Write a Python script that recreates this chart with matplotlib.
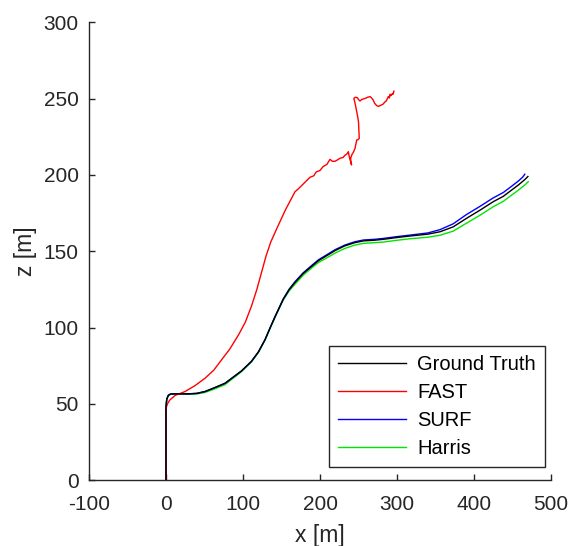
import matplotlib
matplotlib.use("Agg")
import matplotlib.pyplot as plt

plt.rcParams['font.family'] = ['Liberation Sans', 'DejaVu Sans']
plt.rcParams['axes.unicode_minus'] = False

# Ground truth trajectory
gt_x = [0, 0, 0, 1, 3, 6, 15, 29, 40, 50.6, 62, 76.6, 85.3, 98, 111, 120, 128.6, 135,
        141.6, 152.3, 160, 167.5, 178, 189, 198, 206.5, 219.5, 232, 245, 256.5, 270, 282,
        300, 317, 340, 356, 373, 390, 408, 425, 438, 448, 457.5, 466, 470]
gt_z = [0, 25, 48, 53, 55.5, 56.4, 56.5, 56.5, 56.8, 58, 60.3, 63.4, 66.7, 71.5, 77.8, 84, 92,
        99.5, 107, 118.5, 124.8, 129.5, 135.3, 140, 143.8, 146.4, 150.4, 153.5, 155.6, 156.8, 157.2, 157.8,
        159, 160, 161.2, 162.8, 166, 171.5, 177, 182.5, 186, 189.8, 193.4, 197, 199]

# FAST trajectory
fast_x = [0, 0, 0, 2, 5, 12, 24.7, 38, 50.6, 62, 72, 83, 94, 103, 111, 118, 124, 130, 136,
          144, 155, 167.5, 172, 180, 187, 192, 195, 200, 204, 209, 213, 216, 219.5, 223, 226,
          230, 232.5, 235, 236.8, 238, 239, 240, 241, 240, 239.8, 242, 243, 245.5, 246.5,
          247.7, 249, 251, 250.5, 250, 249, 247.7, 246, 244, 246, 248.5, 250, 252, 254, 256,
          260, 262, 265, 267, 269, 271, 273.6, 276, 280, 282, 284.4, 286, 288.7, 290, 291,
          292, 293, 294, 295, 296]
fast_z = [0, 25, 47, 50, 52.5, 55.5, 58, 62, 66.7, 72, 78.7, 86, 95, 103.5, 114, 125, 136, 147, 156,
          165, 177, 189, 191, 195, 198.5, 199.5, 202, 203, 205.5, 207, 210.3, 209, 209, 210, 211,
          211.5, 213, 213.8, 215.3, 212, 210, 208.5, 206.6, 209, 211, 214, 214.5, 217.5, 220,
          223, 223, 224, 229, 235, 238, 241.5, 246, 250.3, 251, 250.7, 249.5, 248.5, 249.5, 249.8,
          250.5, 251, 251.4, 250.5, 249.2, 247, 245.5, 245, 246, 246.5, 248, 248.5, 251.4, 250.5,
          252.9, 252, 252.5, 253.5, 253, 255]

# SURF trajectory
surf_x = [0, 0, 0, 1, 3, 6, 15, 29, 40, 50.6, 62, 76.6, 85.3, 98, 111, 120, 128.6, 135,
          141.6, 152.3, 160, 167.5, 178, 189, 198, 206.5, 219.5, 232, 245, 256.5, 270, 282,
          300, 317, 340, 356, 373, 390, 408, 425, 438, 448, 457.5, 463, 466]
surf_z = [0, 25, 48, 53, 55.5, 56.4, 56.5, 56.5, 56.8, 58, 60.3, 63.4, 66.7, 71.5, 77.8, 84, 92,
          99.6, 107.2, 118.8, 125.2, 130, 135.8, 140.6, 144.4, 147, 151, 154, 156.2, 157.4, 157.8, 158.4,
          159.6, 160.6, 162, 164.2, 168, 174, 179.5, 185, 188.5, 192.3, 196, 198.5, 200.5]

# Harris trajectory
harris_x = [0, 0, 0, 1, 3, 6, 15, 29, 40, 50.6, 62, 76.6, 85.3, 98, 111, 120, 128.6, 135,
            141.6, 152.3, 160, 167.5, 178, 189, 198, 206.5, 219.5, 232, 245, 256.5, 270, 282,
            300, 317, 340, 356, 373, 390, 408, 425, 438, 448, 457.5, 466, 470.5]
harris_z = [0, 25, 48, 53, 55.5, 56.2, 56.3, 56.2, 56.4, 57.4, 59.5, 62.5, 66, 71, 77.4, 83.6, 91.7,
            99.2, 106.7, 118.1, 124, 128.4, 134.2, 139, 142.6, 145, 148.8, 151.8, 154, 155.2, 155.6, 156,
            157.2, 158.2, 159.2, 160.5, 163.2, 168.3, 173.7, 179.2, 182.7, 186.5, 190, 193.5, 195.6]

xticks = [-100, 0, 100, 200, 300, 400, 500]
yticks = [0, 50, 100, 150, 200, 250, 300]

dark = (0.15, 0.15, 0.15)

fig = plt.figure(figsize=(5.70, 5.46), dpi=100)
ax = fig.add_axes([89/570, 66/546, 462/570, 457.5/546])

ax.plot(gt_x, gt_z, color='black', lw=1.0, label='Ground Truth', zorder=4)
ax.plot(fast_x, fast_z, color='red', lw=1.0, label='FAST', zorder=3)
ax.plot(surf_x, surf_z, color='blue', lw=1.0, label='SURF', zorder=2)
ax.plot(harris_x, harris_z, color=(0, 0.9, 0), lw=1.0, label='Harris', zorder=1)

ax.set_xlim(-100, 500)
ax.set_ylim(0, 300)
ax.set_xticks(xticks)
ax.set_yticks(yticks)
ax.spines['top'].set_visible(False)
ax.spines['right'].set_visible(False)
for s in ('left', 'bottom'):
    ax.spines[s].set_color(dark)
    ax.spines[s].set_linewidth(1.0)
ax.tick_params(direction='in', length=4, width=1.0, color=dark, labelcolor=dark,
               labelsize=15)
ax.tick_params(axis='x', pad=11)
ax.tick_params(axis='y', pad=7.5)
ax.set_xlabel('x [m]', fontsize=16.5, color=dark, labelpad=7)
ax.set_ylabel('z [m]', fontsize=16.5, color=dark, labelpad=5)

leg = ax.legend(loc='lower right', bbox_to_anchor=(0.987, 0.028), borderaxespad=0,
                fontsize=14.5, handlelength=3.4, handletextpad=0.55, labelspacing=0.45,
                borderpad=0.45, fancybox=False, framealpha=1, edgecolor=dark)
leg.get_frame().set_linewidth(1.0)
for t in leg.get_texts():
    t.set_color('black')

fig.savefig('out.png', dpi=100)
